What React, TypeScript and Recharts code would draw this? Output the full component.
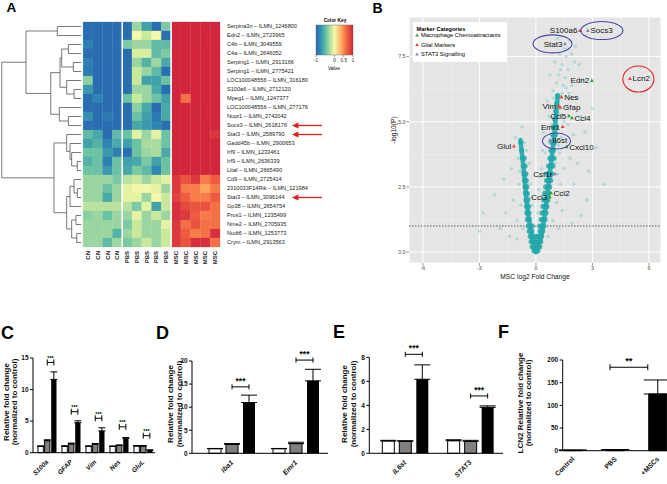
import React from 'react';
import {
  ScatterChart, Scatter, BarChart, Bar, Cell, ErrorBar, XAxis, YAxis,
  CartesianGrid, ReferenceArea, ReferenceLine, Legend,
} from 'recharts';

const FONT = '"Liberation Sans", Arial, Helvetica, sans-serif';

// ---------- A: heatmap ----------
const geneLabels = [
  'Serpina3n – ILMN_1246800', 'Edn2 – ILMN_2723965', 'C4b – ILMN_3049559', 'C4a – ILMN_2646052',
  'Serping1 – ILMN_2913166', 'Serping1 – ILMN_2775421', 'LOC100048556 – ILMN_3161808',
  'S100a6 – ILMN_2712120', 'Mpeg1 – ILMN_1247377', 'LOC100048556 – ILMN_2771768',
  'Nupr1 – ILMN_2742042', 'Socs3 – ILMN_2618176', 'Stat3 – ILMN_2589790', 'Gadd45b – ILMN_2900653',
  'Irf9 – ILMN_1233461', 'Irf9 – ILMN_2636339', 'Litaf – ILMN_2665490', 'Cd9 – ILMN_2725414',
  '2310033F14Rik – ILMN_1219848', 'Stat3 – ILMN_3096144', 'Gp38 – ILMN_2654754', 'Pros1 – ILMN_1235499',
  'Nme2 – ILMN_2705935', 'Nudt6 – ILMN_1253773', 'Crym – ILMN_2913563',
];
const sampleLabels = ['CN', 'CN', 'CN', 'CN', 'PBS', 'PBS', 'PBS', 'PBS', 'PBS', 'MSC', 'MSC', 'MSC', 'MSC', 'MSC'];

const heatCN = [
  [-1, -1, -1, -1], [-1, -1, -1, -1], [-0.85, -1, -1, -1], [-1, -1, -1, -1], [-0.85, -1, -1, -1],
  [-0.9, -1, -1, -1], [-0.35, -1, -1, -1], [-0.7, -1, -1, -1], [-1, -0.8, -1, -1], [-1, -1, -1, -1],
  [-0.75, -1, -0.9, -1], [-1, -1, -1, -1], [-0.5, -0.6, -1, -0.5], [-0.65, -0.55, -0.8, -0.6],
  [-0.45, -0.45, -0.7, -0.85], [-0.55, -0.45, -0.85, -0.45], [-0.45, -0.45, -0.7, -0.45],
  [-0.3, -0.3, -0.3, -0.4], [-0.3, -0.3, -0.45, -0.3], [-0.3, -0.3, -0.6, -0.3], [-0.2, -0.2, -0.2, -0.2],
  [-0.35, -0.3, -0.45, -0.3], [-0.3, -0.3, -0.3, -0.3], [-0.3, -0.3, -0.3, -0.55], [-0.3, -0.3, -0.5, -0.3],
];
const heatPBS = [
  [-1, -0.3, -0.65, -1, -0.4], [-1, 0, -0.15, 0, -1], [-0.4, -0.3, -0.3, -0.5, -0.5],
  [-1, -0.1, -0.1, -0.5, -0.4], [-1, -0.3, -0.55, -0.3, -0.6], [-1, -0.15, -0.3, -0.5, -1],
  [-1, -0.15, -0.65, -0.65, -0.45], [-1, -0.3, -0.3, -0.6, -1], [-0.45, -0.15, -0.3, -0.45, -0.65],
  [-1, -0.35, -0.6, -1, -0.6], [-1, -0.45, -0.65, -0.9, -0.6], [-1, -0.6, -0.7, -0.8, -1],
  [-0.45, -0.05, -0.3, -0.05, -0.45], [-0.65, -0.45, -0.25, -0.25, -0.45], [-1, -0.45, -0.3, -0.25, -0.6],
  [-0.65, -0.6, -0.4, -0.65, -0.45], [-0.6, -0.4, -0.5, -0.8, -0.45], [-0.2, -0.15, -0.3, -0.15, -0.05],
  [-0.05, 0, 0, -0.05, -0.3], [-0.05, -0.05, -0.3, 0, -0.15], [-0.2, -0.4, -0.05, -0.65, -0.15],
  [-0.3, -0.05, -0.3, -0.15, -0.3], [-0.4, -0.15, -0.3, -0.3, -0.05], [-0.3, -0.15, -0.3, -0.3, -0.15],
  [-0.4, -0.3, -0.15, -0.3, -0.15],
];
const heatMSC = [
  [1, 1, 1, 1, 1], [1, 1, 1, 1, 1], [1, 1, 1, 1, 1], [1, 1, 1, 1, 1], [1, 1, 1, 1, 1], [1, 1, 1, 1, 1],
  [1, 1, 1, 1, 1], [1, 1, 1, 1, 1], [1, 0.6, 1, 1, 1], [1, 1, 1, 1, 1], [1, 1, 1, 1, 1], [1, 1, 1, 1, 1],
  [1, 1, 1, 1, 0.92], [1, 1, 1, 1, 1], [1, 1, 1, 1, 1], [1, 1, 1, 1, 1], [1, 1, 1, 1, 1],
  [0.9, 0.75, 0.9, 0.55, 0.7], [0.9, 0.55, 0.55, 0.4, 0.55], [0.85, 0.7, 0.55, 0.55, 0.7],
  [0.95, 0.8, 0.75, 0.75, 0.6], [0.95, 0.9, 0.7, 0.55, 0.6], [0.9, 0.6, 0.75, 0.6, 0.6],
  [0.9, 0.7, 0.55, 0.6, 0.95], [0.9, 0.75, 0.95, 0.95, 0.6],
];
const arrowRows = [11, 12, 19];
// hclust-style merges: negative = leaf row (-(row+1)), positive = earlier merge (1-based); third = height
const dendroMerges: [number, number, number][] = [
  [-1, -2, 2.64], [-3, -4, 1.51], [-5, -6, 1.0], [2, 3, 2.19], [-8, -9, 0.93], [-7, 5, 1.68],
  [4, 6, 2.36], [-11, -12, 1.51], [-10, 8, 2.43], [7, 9, 3.31], [1, 10, 5.84],
  [-16, -17, 0.59], [-15, 12, 1.17], [-14, 13, 1.34], [-13, 14, 1.68],
  [-19, -20, 0.59], [-18, 16, 0.93], [17, -21, 1.34], [-22, -23, 0.73], [-24, -25, 0.65],
  [19, 20, 1.17], [18, 21, 1.68], [15, 22, 2.98], [11, 23, 8.32],
];
const keyTicks = [-1, 0, 0.5, 1];

const colorStops: [number, string][] = [
  [-1, '#2b6db1'], [-0.8, '#2f86b4'], [-0.62, '#44a6a9'], [-0.45, '#6cc3a4'], [-0.3, '#9bd5a1'],
  [-0.15, '#c9e99c'], [0, '#f3f7a8'], [0.4, '#fba55f'], [0.55, '#f77c4a'], [0.7, '#ee5b40'],
  [0.85, '#e0423e'], [1, '#d2263c'],
];
const hex = (c: string) => [1, 3, 5].map((i) => parseInt(c.slice(i, i + 2), 16));
function heatColor(v: number) {
  for (let i = 1; i < colorStops.length; i++) {
    const [v1, c1] = colorStops[i];
    const [v0, c0] = colorStops[i - 1];
    if (v <= v1) {
      const t = (v - v0) / (v1 - v0);
      const a = hex(c0), b = hex(c1);
      return `rgb(${a.map((x, k) => Math.round(x + (b[k] - x) * t)).join(',')})`;
    }
  }
  return colorStops[colorStops.length - 1][1];
}

const heatCells = geneLabels.flatMap((_, r) =>
  [...heatCN[r], ...heatPBS[r], ...heatMSC[r]].map((v, c) => ({ r, c, color: heatColor(v) })),
);

const LEAF_H = 0.2;
const dendroNodes: { y: number; h: number }[] = [];
const nodeOf = (id: number) => (id < 0 ? { y: -id - 0.5, h: LEAF_H } : dendroNodes[id - 1]);
const dendroLinks = dendroMerges.map(([a, b, h]) => {
  const pa = nodeOf(a);
  const pb = nodeOf(b);
  dendroNodes.push({ y: (pa.y + pb.y) / 2, h });
  return [
    { x: -pa.h, y: pa.y }, { x: -h, y: pa.y }, { x: -h, y: pb.y }, { x: -pb.h, y: pb.y },
  ];
});

const noMarker = () => <g />;

const SampleTick = (p: any) => (
  <text x={p.x} y={p.y} transform={`rotate(-90 ${p.x} ${p.y})`} textAnchor="end" dominantBaseline="central"
    fontSize={6} fontWeight="bold" fontFamily={FONT} fill="#222">
    {sampleLabels[Math.floor(p.payload.value)]}
  </text>
);
const GeneTick = (p: any) => (
  <text x={p.x} y={p.y} dy="0.35em" textAnchor="start" fontSize={5.6} fontFamily={FONT} fill="#222"
    clipPath="url(#geneClip)">
    {geneLabels[Math.floor(p.payload.value)]}
  </text>
);
const ArrowShape = (p: any) => (
  <g>
    <line x1={p.x1} y1={p.y1} x2={p.x2 + 5} y2={p.y2} stroke="#e41a1c" strokeWidth={1.3} />
    <path d={`M${p.x2},${p.y2}L${p.x2 + 6.5},${p.y2 - 3}L${p.x2 + 6.5},${p.y2 + 3}Z`} fill="#e41a1c" />
  </g>
);

function HeatmapPanel() {
  const colTicks = sampleLabels.map((_, i) => i + 0.5);
  const rowTicks = geneLabels.map((_, i) => i + 0.5);
  return (
    <ScatterChart width={330} height={290} margin={{ top: 22, right: 0, bottom: 3, left: 0 }}>
      <defs>
        <clipPath id="geneClip"><rect x={0} y={0} width={308} height={290} /></clipPath>
      </defs>
      <XAxis type="number" dataKey="x" domain={[-8.5, 14]} ticks={colTicks} interval={0} tick={<SampleTick />}
        axisLine={false} tickLine={false} tickSize={2} tickMargin={2} height={40} />
      <YAxis type="number" dataKey="y" orientation="right" domain={[0, 25]} reversed ticks={rowTicks} interval={0}
        tick={<GeneTick />} axisLine={false} tickLine={false} tickSize={5} tickMargin={2} width={110} />
      {heatCells.map((c) => (
        <ReferenceArea key={`${c.r}-${c.c}`} x1={c.c} x2={c.c + 1} y1={c.r} y2={c.r + 1}
          fill={c.color} fillOpacity={1} stroke={c.color} strokeWidth={0.3} />
      ))}
      <ReferenceLine x={4} stroke="#fff" strokeWidth={1.6} />
      <ReferenceLine x={9} stroke="#fff" strokeWidth={1.6} />
      {dendroLinks.map((pts, i) => (
        <Scatter key={i} data={pts} line={{ stroke: '#555', strokeWidth: 0.8 }} lineType="joint"
          shape={noMarker} isAnimationActive={false} />
      ))}
      {arrowRows.map((r) => (
        <ReferenceLine key={r} segment={[{ x: 24.43, y: r + 0.5 }, { x: 21.36, y: r + 0.5 }]}
          ifOverflow="visible" shape={ArrowShape} />
      ))}
    </ScatterChart>
  );
}

function ColorKey() {
  const extent = [{ x: -1, y: 0 }, { x: 1, y: 1 }];
  return (
    <ScatterChart width={50} height={75} margin={{ top: 15, right: 7, bottom: 0, left: 6 }}>
      <defs>
        <linearGradient id="keyGrad" x1="0" y1="0" x2="1" y2="0">
          {colorStops.map(([v, c]) => <stop key={v} offset={`${((v + 1) / 2) * 100}%`} stopColor={c} />)}
        </linearGradient>
      </defs>
      <XAxis type="number" dataKey="x" domain={[-1, 1]} ticks={keyTicks} interval={0} height={30}
        axisLine={false} tickLine={{ stroke: '#333', strokeWidth: 0.5 }} tickSize={2} tickMargin={2}
        tick={{ fontSize: 4.6, fill: '#222', fontFamily: FONT }} />
      <YAxis type="number" dataKey="y" domain={[0, 1]} hide />
      <Scatter data={extent} shape={noMarker} isAnimationActive={false} />
      <ReferenceArea x1={-1} x2={1} y1={0} y2={1} fill="url(#keyGrad)" fillOpacity={1} stroke="#555" strokeWidth={0.4} />
      <text x={25} y={10} textAnchor="middle" dominantBaseline="central" fontSize={4.8} fontWeight="bold" fontFamily={FONT}>Color Key</text>
      <text x={24} y={58.5} textAnchor="middle" dominantBaseline="central" fontSize={4.8} fontFamily={FONT}>Value</text>
    </ScatterChart>
  );
}

// ---------- B: volcano ----------
const volcanoLeftArm: [number, number][] = [
  [0, 0], [-0.2, 0.5], [-0.32, 1.0], [-0.42, 1.5], [-0.5, 2.0], [-0.56, 2.5], [-0.62, 3.0], [-0.7, 3.5],
  [-0.78, 4.0], [-0.82, 4.3],
];
const volcanoRightArm: [number, number][] = [
  [0, 0], [0.25, 0.5], [0.38, 1.0], [0.48, 1.5], [0.57, 2.0], [0.65, 2.5], [0.73, 3.0], [0.82, 3.5],
  [0.9, 4.0], [0.97, 4.5], [1.04, 5.0], [1.1, 5.5], [1.16, 6.0],
];
const volcanoCore: [number, number][] = [
  [-0.1, 0.05], [0, 0.05], [0.1, 0.05],
  [-0.2, 0.2], [-0.1, 0.2], [0, 0.2], [0.1, 0.2], [0.2, 0.2],
  [-0.25, 0.4], [-0.12, 0.4], [0, 0.4], [0.12, 0.4], [0.25, 0.4],
  [-0.3, 0.6], [-0.18, 0.6], [-0.05, 0.6], [0.05, 0.6], [0.18, 0.6], [0.3, 0.6],
  [-0.35, 0.8], [-0.22, 0.8], [0.22, 0.8], [0.35, 0.8],
  [-0.4, 1.0], [-0.3, 1.0], [-0.2, 1.0], [0.2, 1.0], [0.3, 1.0], [0.42, 1.0],
  [-0.45, 1.25], [-0.35, 1.25], [0.28, 1.25], [0.38, 1.25], [0.48, 1.25],
  [-0.48, 1.5], [-0.38, 1.5], [0.33, 1.5], [0.43, 1.5], [0.53, 1.5],
  [-0.5, 1.75], [-0.4, 1.75], [0.38, 1.75], [0.48, 1.75], [0.58, 1.75],
  [-0.53, 2.0], [-0.43, 2.0], [0.42, 2.0], [0.52, 2.0], [0.63, 2.0],
  [-0.55, 2.25], [-0.46, 2.25], [0.47, 2.25], [0.57, 2.25], [0.68, 2.25],
  [-0.58, 2.5], [-0.49, 2.5], [0.52, 2.5], [0.62, 2.5], [0.73, 2.5],
  [-0.6, 2.75], [-0.52, 2.75], [0.57, 2.75], [0.67, 2.75], [0.78, 2.75],
  [-0.64, 3.0], [-0.55, 3.0], [0.62, 3.0], [0.72, 3.0], [0.84, 3.0],
  [-0.68, 3.3], [-0.58, 3.3], [0.68, 3.3], [0.78, 3.3], [0.9, 3.3],
  [-0.72, 3.6], [-0.63, 3.6], [0.74, 3.6], [0.85, 3.6], [0.96, 3.6],
  [-0.76, 3.9], [0.8, 3.9], [0.92, 3.9], [-0.8, 4.2], [0.86, 4.2], [0.98, 4.2],
  [0.9, 4.5], [1.03, 4.5], [0.95, 4.8], [1.08, 4.8], [1.0, 5.1], [1.05, 5.4], [1.1, 5.7], [1.15, 6.0],
];
const volcanoCloud: [number, number][] = [
  [-2.8, 1.5], [-2.2, 2.2], [-1.9, 0.9], [-1.6, 1.5], [-1.4, 0.6], [-1.3, 3.2], [-1.2, 2.0], [-1.1, 4.4],
  [-1.0, 1.2], [-0.95, 3.6], [-0.9, 2.6], [-0.85, 3.1], [-0.8, 1.8], [-0.7, 0.9], [-0.6, 4.2], [-0.6, 2.3],
  [-0.5, 3.9], [-0.45, 3.0], [-0.4, 1.2], [-0.3, 2.6], [-0.2, 1.8], [-0.2, 0.4], [-3.0, 0.8], [-1.7, 2.8],
  [-1.0, 0.5], [-0.75, 4.8], [0.1, 1.5], [0.15, 2.4], [0.3, 3.2], [0.4, 0.8], [0.5, 3.8], [0.55, 3.0],
  [0.6, 2.0], [0.4, 4.6], [0.7, 5.2], [0.6, 5.8], [0.75, 6.8], [0.8, 2.9], [0.85, 4.9], [0.9, 6.2],
  [0.9, 1.2], [1.0, 3.4], [1.0, 7.3], [1.05, 5.6], [1.1, 1.9], [1.15, 8.2], [1.2, 6.8], [1.2, 4.1],
  [1.25, 7.6], [1.3, 6.0], [1.3, 2.6], [1.4, 7.2], [1.4, 1.6], [1.45, 6.4], [1.5, 7.8], [1.5, 3.2],
  [1.6, 7.5], [1.6, 5.6], [1.6, 2.2], [1.7, 4.9], [1.8, 8.1], [1.8, 3.6], [1.9, 7.6], [1.9, 6.4],
  [2.0, 4.5], [2.0, 2.6], [2.1, 7.9], [2.2, 5.9], [2.2, 3.4], [2.3, 7.2], [2.4, 5.2], [2.4, 1.4],
  [2.5, 6.6], [2.6, 4.6], [2.8, 3.1], [3.2, 4.0], [3.6, 2.6], [1.7, 7.0], [1.35, 5.2], [0.95, 5.9],
  [1.55, 6.7], [1.75, 6.1], [2.05, 7.3], [1.15, 3.0], [1.25, 3.8], [0.7, 4.2], [0.65, 0.6], [1.2, 0.9],
  [1.9, 1.1], [2.7, 2.0], [3.0, 5.5], [1.1, 4.6], [-0.35, 3.4], [-0.25, 2.1], [0.2, 2.9], [0.35, 3.9],
  [1.3, 7.0], [1.4, 6.1], [1.6, 6.3], [1.2, 5.3], [0.95, 4.4], [1.35, 4.4], [1.5, 5.0], [1.1, 6.5],
];
const chemoGenes = ['Edn2', 'Ccl5', 'Ccl4', 'Cxcl10', 'Ccl2', 'Ccl3'];
const chemoX = [2.97, 1.75, 1.91, 1.63, 0.8, 0.74];
const chemoY = [6.58, 5.23, 5.15, 4.04, 2.27, 2.12];
const glialGenes = ['S100a6', 'Lcn2', 'Nes', 'Vim', 'Gfap', 'Emr1', 'Glul'];
const glialX = [2.34, 4.99, 1.36, 1.21, 1.3, 1.42, -1.17];
const glialY = [8.5, 6.66, 5.95, 5.61, 5.55, 4.81, 4.07];
const stat3Genes = ['Socs3', 'Stat3', 'Il6st', 'Csf1r'];
const stat3X = [2.76, 1.54, 0.74, 1.01];
const stat3Y = [8.5, 7.99, 4.3, 3.0];
const circledGenes = ['Socs3', 'Stat3', 'Il6st', 'Lcn2'];
const circledX = [3.5, 0.88, 1.09, 5.44];
const circledY = [8.5, 7.99, 4.26, 6.64];
const volMajorX = [-6, -3, 0, 3, 6];
const volMajorY = [0, 2.5, 5, 7.5];
const volMinorX = [-4.5, -1.5, 1.5, 4.5];
const volMinorY = [1.25, 3.75, 6.25, 8.75];

const labelLeft = new Set(['S100a6', 'Stat3', 'Edn2', 'Vim', 'Ccl5', 'Emr1', 'Glul', 'Csf1r', 'Ccl3']);
const ellipseStyle: Record<string, { rx: number; ry: number; stroke: string }> = {
  Socs3: { rx: 21, ry: 9, stroke: '#4b48a8' },
  Stat3: { rx: 19.5, ry: 9, stroke: '#4b48a8' },
  Il6st: { rx: 14, ry: 8, stroke: '#4b48a8' },
  Lcn2: { rx: 15.5, ry: 13, stroke: '#e3262b' },
};
const categoryColors = { chemo: '#33a02c', glial: '#e8403a', stat3: '#8a7dbf' };

const toPts = (arr: [number, number][]) => arr.map(([x, y]) => ({ x, y }));
const genePts = (names: string[], xs: number[], ys: number[]) => names.map((gene, i) => ({ gene, x: xs[i], y: ys[i] }));

const geneShape = (color: string) => (p: any) => {
  const { cx, cy, payload } = p;
  const left = labelLeft.has(payload.gene);
  return (
    <g>
      <path d={`M${cx},${cy - 2}L${cx + 1.9},${cy + 1.4}L${cx - 1.9},${cy + 1.4}Z`} fill={color} />
      <text x={left ? cx - 2.6 : cx + 2.6} y={cy} dy="0.35em" textAnchor={left ? 'end' : 'start'}
        fontSize={8} fontFamily={FONT} fill="#111">{payload.gene}</text>
    </g>
  );
};
const ellipseShape = (p: any) => {
  const s = ellipseStyle[p.payload.gene];
  return <ellipse cx={p.cx} cy={p.cy} rx={s.rx} ry={s.ry} fill="none" stroke={s.stroke} strokeWidth={1.1} />;
};

const VolcanoLegend = () => {
  const items: [string, string][] = [
    ['Macrophage Chemoattractants', categoryColors.chemo],
    ['Glial Markers', categoryColors.glial],
    ['STAT3 Signalling', categoryColors.stat3],
  ];
  return (
    <svg width={94} height={40} style={{ display: 'block' }}>
      <rect x={0} y={0} width={94} height={40} fill="#fff" />
      <text x={3.5} y={6.5} fontSize={5.6} fontWeight="bold" fontFamily={FONT} dominantBaseline="central">Marker Categories</text>
      {items.map(([name, color], i) => {
        const cy = 13.3 + i * 9.5;
        return (
          <g key={name}>
            <path d={`M4,${cy - 1.8}L5.8,${cy + 1.3}L2.2,${cy + 1.3}Z`} fill={color} />
            <text x={8} y={cy} fontSize={5.8} fontFamily={FONT} dominantBaseline="central">{name}</text>
          </g>
        );
      })}
    </svg>
  );
};

function VolcanoPanel() {
  const tickStyle = { fontSize: 5.3, fill: '#4d4d4d', fontFamily: FONT };
  const armLine = { stroke: '#22a8aa', strokeWidth: 4.5, strokeOpacity: 0.9, strokeLinecap: 'round' as const };
  return (
    <ScatterChart width={287} height={290} margin={{ top: 17, right: 6, bottom: 0, left: 0 }}>
      <CartesianGrid stroke="#ffffff" strokeWidth={1} fill="#e5e5e5" fillOpacity={1} />
      <XAxis type="number" dataKey="x" domain={[-6.74, 6.64]} ticks={volMajorX} interval={0} height={27}
        axisLine={false} tickLine={{ stroke: '#4d4d4d', strokeWidth: 0.6 }} tickSize={2.5} tickMargin={1} tick={tickStyle} />
      <YAxis type="number" dataKey="y" domain={[-0.42, 9.02]} ticks={volMajorY} interval={0} width={29}
        tickFormatter={(v: number) => v.toFixed(1)}
        axisLine={false} tickLine={{ stroke: '#4d4d4d', strokeWidth: 0.6 }} tickSize={2.5} tickMargin={1} tick={tickStyle} />
      {volMinorX.map((v) => <ReferenceLine key={`mx${v}`} x={v} stroke="#f2f2f2" strokeWidth={0.5} />)}
      {volMinorY.map((v) => <ReferenceLine key={`my${v}`} y={v} stroke="#f2f2f2" strokeWidth={0.5} />)}
      <Scatter data={toPts(volcanoCloud)} isAnimationActive={false}
        shape={(p: any) => <circle cx={p.cx} cy={p.cy} r={1.7} fill="#3dbdbd" fillOpacity={0.32} />} />
      <Scatter data={toPts(volcanoLeftArm)} line={armLine} lineType="joint" shape={noMarker} isAnimationActive={false} />
      <Scatter data={toPts(volcanoRightArm)} line={armLine} lineType="joint" shape={noMarker} isAnimationActive={false} />
      <Scatter data={toPts(volcanoCore)} isAnimationActive={false}
        shape={(p: any) => <circle cx={p.cx} cy={p.cy} r={2.6} fill="#22a8aa" fillOpacity={0.85} />} />
      <ReferenceLine y={1} stroke="#222" strokeDasharray="1.5 1.5" strokeWidth={0.7} />
      <Scatter data={genePts(chemoGenes, chemoX, chemoY)} shape={geneShape(categoryColors.chemo)} isAnimationActive={false} />
      <Scatter data={genePts(glialGenes, glialX, glialY)} shape={geneShape(categoryColors.glial)} isAnimationActive={false} />
      <Scatter data={genePts(stat3Genes, stat3X, stat3Y)} shape={geneShape(categoryColors.stat3)} isAnimationActive={false} />
      <Scatter data={genePts(circledGenes, circledX, circledY)} shape={ellipseShape} isAnimationActive={false} />
      <Legend content={<VolcanoLegend />} layout="vertical" align="center" verticalAlign="middle"
        wrapperStyle={{ left: 33, top: 21.7, width: 94, height: 40 }} />
      <text x={13} y={130} transform="rotate(-90 13 130)" textAnchor="middle" dominantBaseline="central"
        fontSize={6.7} fontFamily={FONT} fill="#111">-log10(P)</text>
      <text x={155} y={276} textAnchor="middle" dominantBaseline="central" fontSize={6.7} fontFamily={FONT} fill="#111">MSC log2 Fold Change</text>
    </ScatterChart>
  );
}

// ---------- C/D/E: qPCR grouped bars ----------
const cGenes = ['S100a', 'GFAP', 'Vim', 'Nes', 'GluL'];
const cControl = [1, 1, 1, 1, 1.05];
const cControlErr = [0.08, 0.1, 0.08, 0.06, 0.08];
const cPbs = [1.9, 1.4, 1.35, 1.15, 1.05];
const cPbsErr = [0.15, 0.12, 0.1, 0.08, 0.08];
const cMsc = [11.6, 4.75, 3.45, 2.3, 0.4];
const cMscErr = [1.2, 0.3, 0.5, 0.1, 0.05];
const cSig = [14.3, 6.5, 5.45, 4.1, 2.7];
const cStars = ['***', '***', '***', '***', '***'];

const dGenes = ['Iba1', 'Emr1'];
const dControl = [1, 1];
const dControlErr = [0.05, 0.05];
const dPbs = [1.95, 2.1];
const dPbsErr = [0.15, 0.3];
const dMsc = [11, 15.7];
const dMscErr = [1.6, 2.5];
const dSig = [14.4, 20.2];
const dStars = ['***', '***'];

const eGenes = ['IL6st', 'STAT3'];
const eControl = [1.03, 1.05];
const eControlErr = [0.05, 0.08];
const ePbs = [1.0, 1.0];
const ePbsErr = [0.05, 0.08];
const eMsc = [6.17, 3.83];
const eMscErr = [1.2, 0.12];
const eSig = [8.25, 4.78];
const eStars = ['***', '***'];

// ---------- F: LCN2 ----------
const fGroups = ['Control', 'PBS', '+MSCs'];
const fValues = [1, 2, 125];
const fErr = [0.5, 0.5, 31];
const fBracket = { from: 0.87, to: 1.76, y: 184, stars: '**' };

type GroupRow = {
  name: string; ctrl: number; ctrlErr: number[]; pbs: number; pbsErr: number[];
  msc: number; mscErr: number[]; sig: number; stars: string;
};
const buildRows = (names: string[], ctrl: number[], ctrlErr: number[], pbs: number[], pbsErr: number[],
  msc: number[], mscErr: number[], sig: number[], stars: string[]): GroupRow[] =>
  names.map((name, i) => ({
    name, ctrl: ctrl[i], ctrlErr: [0, ctrlErr[i]], pbs: pbs[i], pbsErr: [0, pbsErr[i]],
    msc: msc[i], mscErr: [0, mscErr[i]], sig: sig[i], stars: stars[i],
  }));

const SlantTick = (p: any) => (
  <text x={p.x} y={p.y} transform={`rotate(-45 ${p.x} ${p.y})`} textAnchor="end" dominantBaseline="central"
    fontSize={p.fs} fontWeight="bold" fontStyle={p.italic ? 'italic' : 'normal'} fontFamily={FONT} fill="#111">
    {p.names ? p.names[p.payload.value] : p.payload.value}
  </text>
);

const yTickStyle = { fontSize: 6.5, fontWeight: 'bold', fill: '#111', fontFamily: FONT };

function AxisTitle({ lines, xs, cy }: { lines: string[]; xs: number[]; cy: number }) {
  return (
    <g>
      {lines.map((t, i) => (
        <text key={t} x={xs[i]} y={cy} transform={`rotate(-90 ${xs[i]} ${cy})`} textAnchor="middle"
          dominantBaseline="central" fontSize={8} fontWeight="bold" fontFamily={FONT} fill="#111">{t}</text>
      ))}
    </g>
  );
}

type PanelProps = {
  rows: GroupRow[]; width: number; height: number; top: number; right: number; yWidth: number; xHeight: number;
  padLeft: number; yDomain: [number, number]; yTicks: number[]; barSize: number; barGap: number; cap: number;
  bTick: number; starFs: number; starLift: number; tickFs: number; tickMargin: number;
  titleXs: number[]; titleY: number;
};

function GroupPanel(p: PanelProps) {
  const mscShape = (s: any) => {
    const { x, y, width, height, payload } = s;
    const base = y + height;
    const yb = base - payload.sig * (height / payload.msc);
    const x1 = x - p.barGap - width / 2;
    const x2 = x + width / 2;
    return (
      <g>
        <rect x={x} y={y} width={width} height={height} fill="#000" />
        <path d={`M${x1},${yb - p.bTick}V${yb + p.bTick}M${x1},${yb}H${x2}M${x2},${yb - p.bTick}V${yb + p.bTick}`}
          stroke="#000" strokeWidth={1} fill="none" />
        <text x={(x1 + x2) / 2} y={yb - p.starLift} textAnchor="middle" fontSize={p.starFs} fontWeight="bold"
          fontFamily={FONT}>{payload.stars}</text>
      </g>
    );
  };
  return (
    <BarChart width={p.width} height={p.height} data={p.rows} barSize={p.barSize} barGap={p.barGap}
      margin={{ top: p.top, right: p.right, bottom: 0, left: 0 }}>
      <XAxis dataKey="name" height={p.xHeight} padding={{ left: p.padLeft, right: 0 }} interval={0}
        axisLine={{ stroke: '#000', strokeWidth: 1 }} tickLine={false} tickSize={3} tickMargin={p.tickMargin}
        tick={<SlantTick fs={p.tickFs} italic />} />
      <YAxis type="number" domain={p.yDomain} ticks={p.yTicks} interval={0} width={p.yWidth}
        axisLine={{ stroke: '#000', strokeWidth: 1 }} tickLine={{ stroke: '#000', strokeWidth: 1 }}
        tickSize={3} tickMargin={1.5} tick={yTickStyle} />
      <Bar dataKey="ctrl" fill="#fff" stroke="#000" strokeWidth={1} isAnimationActive={false}>
        <ErrorBar dataKey="ctrlErr" width={p.cap} stroke="#000" strokeWidth={1} direction="y" />
      </Bar>
      <Bar dataKey="pbs" fill="#808080" stroke="#000" strokeWidth={1} isAnimationActive={false}>
        <ErrorBar dataKey="pbsErr" width={p.cap} stroke="#000" strokeWidth={1} direction="y" />
      </Bar>
      <Bar dataKey="msc" fill="#000" shape={mscShape} isAnimationActive={false}>
        <ErrorBar dataKey="mscErr" width={p.cap} stroke="#000" strokeWidth={1} direction="y" />
      </Bar>
      <AxisTitle lines={['Relative fold change', '(normalized to control)']} xs={p.titleXs} cy={p.titleY} />
    </BarChart>
  );
}

const BracketShape = (s: any) => {
  const t = 3;
  return (
    <g>
      <path d={`M${s.x1},${s.y1 - t}V${s.y1 + t}M${s.x1},${s.y1}H${s.x2}M${s.x2},${s.y2 - t}V${s.y2 + t}`}
        stroke="#000" strokeWidth={1} fill="none" />
      <text x={(s.x1 + s.x2) / 2} y={s.y1 - 3.3} textAnchor="middle" fontSize={9.5} fontWeight="bold" fontFamily={FONT}>
        {fBracket.stars}
      </text>
    </g>
  );
};

function LcnPanel() {
  const data = fGroups.map((name, i) => ({ pos: i, name, value: fValues[i], err: [0, fErr[i]] }));
  const fills = ['#fff', '#808080', '#000'];
  return (
    <BarChart width={175} height={184} data={data} barSize={18} margin={{ top: 60, right: 0, bottom: 0, left: 0 }}>
      <XAxis type="number" dataKey="pos" domain={[-0.2424, 2.518]} ticks={[0, 1, 2]} interval={0} height={33.3}
        axisLine={{ stroke: '#000', strokeWidth: 1 }} tickLine={false} tickSize={3} tickMargin={4}
        tick={<SlantTick fs={6.8} names={fGroups} />} />
      <YAxis type="number" domain={[0, 200]} ticks={[0, 50, 100, 150, 200]} interval={0} width={57.7}
        axisLine={{ stroke: '#000', strokeWidth: 1 }} tickLine={{ stroke: '#000', strokeWidth: 1 }}
        tickSize={3} tickMargin={1.5} tick={yTickStyle} />
      <Bar dataKey="value" stroke="#000" strokeWidth={1} isAnimationActive={false}>
        {data.map((d, i) => <Cell key={d.name} fill={fills[i]} />)}
        <ErrorBar dataKey="err" width={14} stroke="#000" strokeWidth={1} direction="y" />
      </Bar>
      <ReferenceLine segment={[{ x: fBracket.from, y: fBracket.y }, { x: fBracket.to, y: fBracket.y }]}
        shape={BracketShape} ifOverflow="visible" />
      <AxisTitle lines={['LCN2 Relative fold change', '(normalized to control)']} xs={[15, 23.8]} cy={103} />
    </BarChart>
  );
}

const letterStyle = (left: number, top: number, fs: number): React.CSSProperties => ({
  position: 'absolute', left, top, fontSize: fs, lineHeight: `${fs}px`, fontWeight: 'bold', fontFamily: FONT, color: '#000',
});

export default function App() {
  const cRows = buildRows(cGenes, cControl, cControlErr, cPbs, cPbsErr, cMsc, cMscErr, cSig, cStars);
  const dRows = buildRows(dGenes, dControl, dControlErr, dPbs, dPbsErr, dMsc, dMscErr, dSig, dStars);
  const eRows = buildRows(eGenes, eControl, eControlErr, ePbs, ePbsErr, eMsc, eMscErr, eSig, eStars);
  return (
    <div style={{ position: 'absolute', left: 0, top: 0, width: 667, height: 484, background: '#fff', overflow: 'hidden', fontFamily: FONT }}>
      <div style={{ position: 'absolute', left: 0, top: 0 }}><HeatmapPanel /></div>
      <div style={{ position: 'absolute', left: 310, top: 10 }}><ColorKey /></div>
      <div style={{ position: 'absolute', left: 380, top: 0 }}><VolcanoPanel /></div>
      <div style={{ position: 'absolute', left: 0, top: 300 }}>
        <GroupPanel rows={cRows} width={160} height={184} top={58} right={5} yWidth={33} xHeight={31.3} padLeft={2}
          yDomain={[0, 15]} yTicks={[0, 5, 10, 15]} barSize={5.3} barGap={1.3} cap={3.5} bTick={3}
          starFs={5.5} starLift={2.5} tickFs={6.5} tickMargin={5} titleXs={[6.3, 14.5]} titleY={102} />
      </div>
      <div style={{ position: 'absolute', left: 160, top: 300 }}>
        <GroupPanel rows={dRows} width={175} height={184} top={61} right={7} yWidth={32} xHeight={30.7} padLeft={8}
          yDomain={[0, 20]} yTicks={[0, 5, 10, 15, 20]} barSize={12} barGap={5} cap={8} bTick={2.5}
          starFs={8.5} starLift={3.3} tickFs={7} tickMargin={5} titleXs={[10, 19.5]} titleY={104} />
      </div>
      <div style={{ position: 'absolute', left: 335, top: 300 }}>
        <GroupPanel rows={eRows} width={175} height={184} top={57.3} right={7} yWidth={34.3} xHeight={30.7} padLeft={3}
          yDomain={[0, 8]} yTicks={[0, 2, 4, 6, 8]} barSize={12} barGap={5} cap={8} bTick={2.5}
          starFs={8.5} starLift={3.3} tickFs={7} tickMargin={5} titleXs={[9, 18]} titleY={104} />
      </div>
      <div style={{ position: 'absolute', left: 505, top: 300 }}><LcnPanel /></div>
      <div style={letterStyle(6.5, 0.75, 13.5)}>A</div>
      <div style={letterStyle(372.5, 1, 14)}>B</div>
      <div style={letterStyle(1, 323.5, 18)}>C</div>
      <div style={letterStyle(156, 324, 18)}>D</div>
      <div style={letterStyle(333, 323, 18)}>E</div>
      <div style={letterStyle(498, 323, 18)}>F</div>
    </div>
  );
}
